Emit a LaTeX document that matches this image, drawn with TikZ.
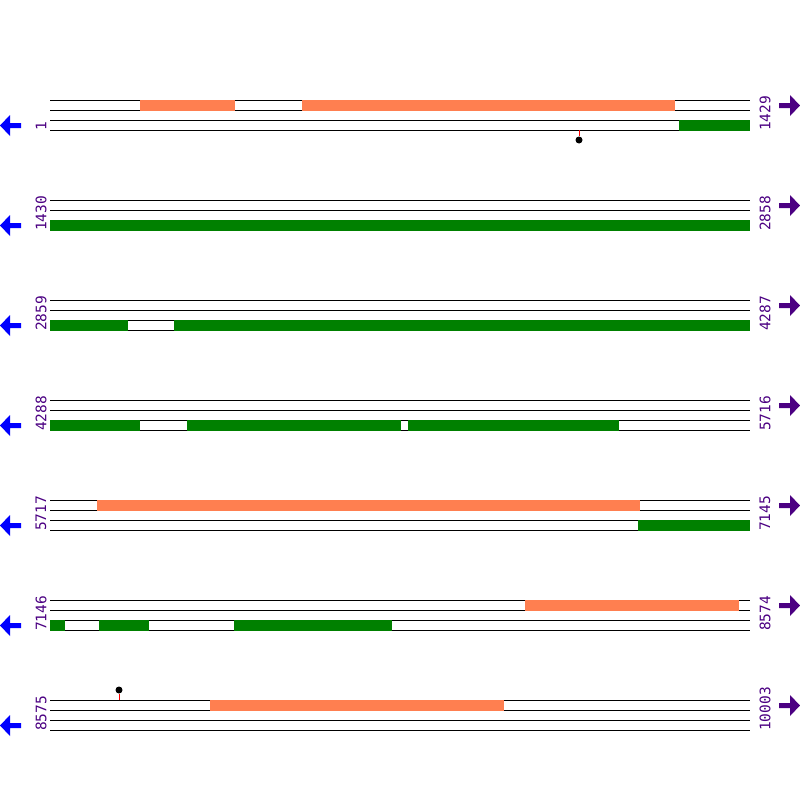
\documentclass[tikz,border=0pt]{standalone}
\usepackage{fontspec}
\setmainfont{DejaVu Sans Mono}
\usetikzlibrary{positioning}
\definecolor{coral}{HTML}{FF7F50}
\definecolor{plusgreen}{HTML}{008000}
\definecolor{labelpurple}{HTML}{4B0082}

\begin{document}
\begin{tikzpicture}[x=1pt, y=-1pt,
    track/.style={black, line width=1pt},
    fwdbar/.style={fill=coral},
    revbar/.style={fill=plusgreen},
    coordlabel/.style={rotate=90, anchor=west, text=labelpurple, inner sep=0pt, font=\fontsize{14.5}{14.5}\selectfont},
    leftarrow/.style={fill=blue},
    rightarrow/.style={fill=labelpurple},
    stem/.style={red, line width=1pt},
    pin/.style={circle, fill=black, inner sep=0pt, minimum size=7pt}
]
\useasboundingbox (0,0) rectangle (800,800);

% tracks, coordinates and strand arrows for each row
\foreach \r/\lo/\hi in {0/1/1429, 1/1430/2858, 2/2859/4287, 3/4288/5716, 4/5717/7145, 5/7146/8574, 6/8575/10003} {
  \pgfmathsetmacro{\y}{100+100*\r}
  \foreach \k in {0,10,20,30}
    \draw[track] (50,\y+\k) -- (750,\y+\k);
  \node[coordlabel] (lo\r) at (41,\y+31) {\lo};
  \node[coordlabel] (hi\r) at (765,\y+31) {\hi};
  % reverse strand arrow
  \fill[leftarrow] (0,\y+25.5) -- (10,\y+15) -- (10,\y+23) -- (21,\y+23) -- (21,\y+28) -- (10,\y+28) -- (10,\y+36) -- cycle;
  % forward strand arrow
  \fill[rightarrow] (800,\y+5.5) -- (790,\y-5) -- (790,\y+3) -- (779,\y+3) -- (779,\y+8) -- (790,\y+8) -- (790,\y+16) -- cycle;
}

% forward features (top track)
\foreach \a/\b/\y in {140/235/100, 302/675/100, 97/640/500, 525/739/600, 210/504/700}
  \fill[fwdbar] (\a,\y) rectangle (\b,\y+11);

% reverse features (third track)
\foreach \a/\b/\y in {679/750/120, 50/750/220, 50/128/320, 174/750/320,
    50/140/420, 187/401/420, 408/619/420, 638/750/520,
    50/65/620, 99/149/620, 234/392/620}
  \fill[revbar] (\a,\y) rectangle (\b,\y+11);

% sites
\node[pin] (siteA) at (579,140) {};
\draw[stem] (579,130) -- (siteA);
\node[pin] (siteB) at (119,690) {};
\draw[stem] (119,700) -- (siteB);

\end{tikzpicture}
\end{document}
